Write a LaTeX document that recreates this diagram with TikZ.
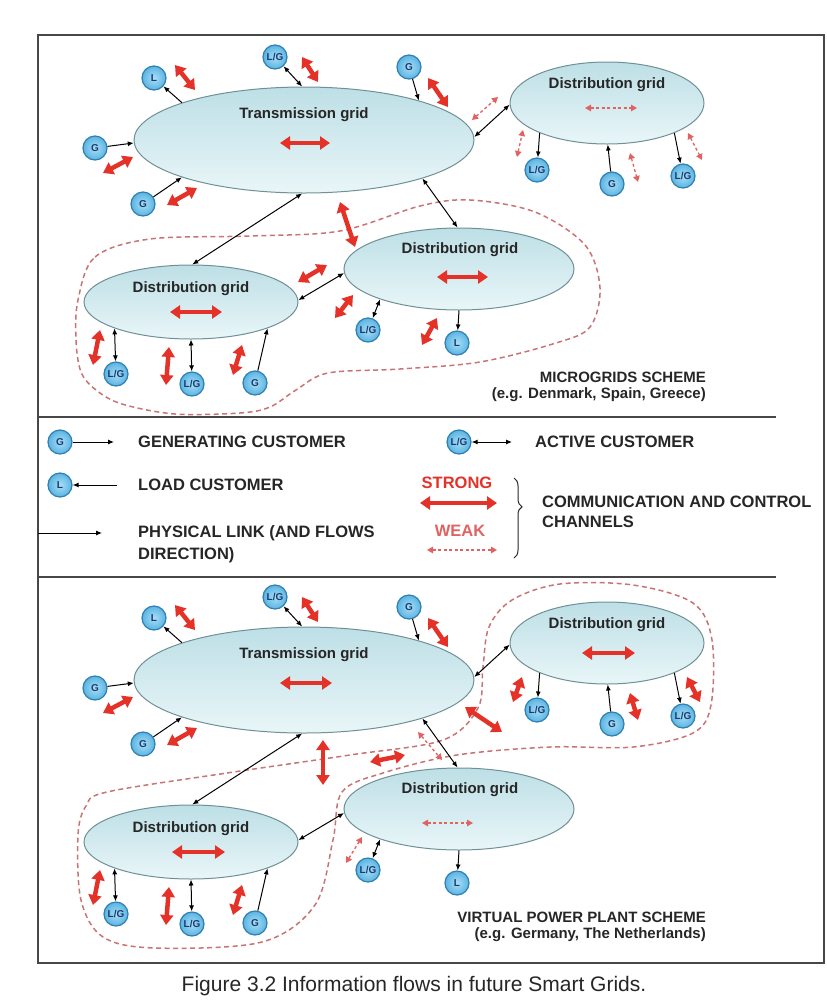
\documentclass[tikz,border=0pt]{standalone}
\usepackage{fontspec}
\setmainfont{Liberation Sans}
\usetikzlibrary{arrows.meta,shapes.geometric,decorations.pathreplacing}

\definecolor{gridtop}{HTML}{BDDFE6}
\definecolor{gridbot}{HTML}{E9F6F8}
\definecolor{gridline}{HTML}{6F9096}
\definecolor{custin}{HTML}{A9DEF6}
\definecolor{custout}{HTML}{5AB4E2}
\definecolor{custline}{HTML}{2F7FB0}
\definecolor{custtext}{HTML}{1C3A6E}
\definecolor{strongred}{HTML}{E53228}
\definecolor{weakred}{HTML}{E06262}
\definecolor{zonered}{HTML}{C87474}
\definecolor{ink}{HTML}{262626}

\begin{document}
\begin{tikzpicture}[x=1pt, y=-1pt,
  grid/.style={ellipse, draw=gridline, line width=1pt, top color=gridtop, bottom color=gridbot, inner sep=0pt},
  gridlabel/.style={font=\fontsize{15}{17}\selectfont\bfseries, text=ink, inner sep=0pt},
  cust/.style={circle, draw=custline, line width=1.2pt, inner color=custin, outer color=custout, minimum size=24pt, inner sep=0pt, font=\fontsize{10}{10}\selectfont\bfseries, text=custtext},
  link/.style={line width=1pt, -{Latex[length=6pt,width=5pt]}},
  duplex/.style={line width=1pt, {Latex[length=6pt,width=5pt]}-{Latex[length=6pt,width=5pt]}},
  strong/.style={strongred, line width=4.5pt, {Triangle[length=10pt,width=13pt]}-{Triangle[length=10pt,width=13pt]}},
  weak/.style={weakred, line width=1.3pt, dash pattern=on 3pt off 2.5pt, {Triangle[length=6pt,width=6.5pt]}-{Triangle[length=6pt,width=6.5pt]}},
  zone/.style={zonered, line width=1.5pt, dash pattern=on 5pt off 3.5pt},
  legend/.style={font=\fontsize{16.5}{20}\selectfont\bfseries, text=ink, anchor=west, inner sep=0pt},
  scheme/.style={font=\fontsize{15}{18}\selectfont\bfseries, text=ink, anchor=east, inner sep=0pt}]

  \useasboundingbox (0,0) rectangle (827,1005);
  \draw[line width=1.3pt, ink!85] (38,35) rectangle (824,963);
  \draw[line width=1.3pt, ink!85] (38,417) -- (776,417);
  \draw[line width=1.3pt, ink!85] (38,577) -- (776,577);

  % dashed zones (drawn first, under the grids)
  \draw[zone] plot[smooth cycle, tension=0.55] coordinates {(78,300) (95,257) (150,239) (250,236) (340,231) (420,206) (470,200) (535,212) (585,245) (600,288) (590,327) (556,343) (480,362) (400,369) (328,373) (296,390) (270,407) (240,413) (175,414) (122,404) (96,390) (81,372) (76,340)};
  \draw[zone] plot[smooth cycle, tension=0.55] coordinates {(107,792) (227,773) (350,755) (443,740) (478,708) (483,667) (489,627) (512,600) (560,584) (633,585) (693,603) (712,640) (711,705) (693,733) (633,747) (550,747) (457,755) (383,773) (342,792) (333,840) (315,905) (262,942) (155,948) (103,937) (81,900) (78,835) (86,806)};

  % both schemes share the same grids, customers and physical links
  \foreach \s/\dy in {A/0,B/540}{
    \node[grid, minimum width=340pt, minimum height=106pt] (tg\s) at (304,{140+\dy}) {};
    \node[grid, minimum width=194pt, minimum height=82pt] (dr\s) at (607,{103+\dy}) {};
    \node[grid, minimum width=230pt, minimum height=82pt] (dm\s) at (459,{269+\dy}) {};
    \node[grid, minimum width=214pt, minimum height=74pt] (dl\s) at (191,{302+\dy}) {};
    \node[gridlabel] (tgt\s) at (304,{115+\dy}) {Transmission grid};
    \node[gridlabel] (drt\s) at (607,{85+\dy}) {Distribution grid};
    \node[gridlabel] (dmt\s) at (460,{250+\dy}) {Distribution grid};
    \node[gridlabel] (dlt\s) at (191,{289+\dy}) {Distribution grid};

    \node[cust] (tl\s) at (154,{78+\dy}) {L};
    \node[cust] (tlg\s) at (275,{57+\dy}) {L/G};
    \node[cust] (tge\s) at (409,{67+\dy}) {G};
    \node[cust] (tgw\s) at (95,{148+\dy}) {G};
    \node[cust] (tgs\s) at (143,{204+\dy}) {G};
    \node[cust] (ra\s) at (537,{170+\dy}) {L/G};
    \node[cust] (rb\s) at (612,{184+\dy}) {G};
    \node[cust] (rc\s) at (683,{176+\dy}) {L/G};
    \node[cust] (ma\s) at (368,{330+\dy}) {L/G};
    \node[cust] (mb\s) at (457,{343+\dy}) {L};
    \node[cust] (la\s) at (116,{374+\dy}) {L/G};
    \node[cust] (lb\s) at (192,{384+\dy}) {L/G};
    \node[cust] (lc\s) at (255,{383+\dy}) {G};

    \draw[link] (tg\s.163) -- (tl\s);
    \draw[duplex] (tlg\s) -- (tg\s.92);
    \draw[link] (tge\s) -- (tg\s.19);
    \draw[link] (tgw\s) -- (tg\s.181);
    \draw[link] (tgs\s) -- (tg\s.197);
    \draw[duplex] (tg\s.1) -- (dr\s.181);
    \draw[duplex] (tg\s.342) -- (dm\s.92);
    \draw[duplex] (tg\s.268) -- (dl\s.88);
    \draw[duplex] (dl\s.1) -- (dm\s.182);
    \draw[link] (dr\s.204) -- (ra\s);
    \draw[link] (rb\s) -- (dr\s.271);
    \draw[link] (dr\s.336) -- (rc\s);
    \draw[duplex] (ma\s) -- (dm\s.201);
    \draw[link] (dm\s.270) -- (mb\s);
    \draw[duplex] (la\s) -- (dl\s.199);
    \draw[duplex] (lb\s) -- (dl\s.270);
    \draw[link] (lc\s) -- (dl\s.341);
  }

  % microgrids scheme: channels
  \draw[strong] (175,65) -- (195,90);
  \draw[strong] (302,57) -- (318,82);
  \draw[strong] (428,78) -- (448,107);
  \draw[strong] (103,173) -- (133,157);
  \draw[strong] (167,205) -- (197,188);
  \draw[strong] (280,143) -- (330,143);
  \draw[strong] (340,202) -- (355,247);
  \draw[strong] (298,282) -- (327,265);
  \draw[strong] (335,318) -- (353,295);
  \draw[strong] (422,345) -- (437,318);
  \draw[strong] (437,277) -- (488,277);
  \draw[strong] (170,312) -- (222,312);
  \draw[strong] (100,330) -- (93,365);
  \draw[strong] (169,347) -- (166,385);
  \draw[strong] (242,345) -- (233,375);
  \draw[weak] (585,108) -- (637,108);
  \draw[weak] (472,120) -- (498,97);
  \draw[weak] (517,157) -- (523,130);
  \draw[weak] (630,153) -- (638,182);
  \draw[weak] (688,133) -- (702,160);

  % virtual power plant scheme: channels
  \draw[strong] (175,605) -- (195,630);
  \draw[strong] (302,597) -- (318,622);
  \draw[strong] (428,618) -- (448,647);
  \draw[strong] (103,713) -- (133,697);
  \draw[strong] (167,745) -- (197,728);
  \draw[strong] (280,683) -- (332,683);
  \draw[strong] (323,740) -- (323,785);
  \draw[strong] (370,762) -- (405,755);
  \draw[strong] (465,707) -- (502,732);
  \draw[strong] (582,653) -- (635,653);
  \draw[strong] (513,702) -- (522,677);
  \draw[strong] (630,693) -- (638,720);
  \draw[strong] (687,677) -- (700,702);
  \draw[strong] (172,852) -- (225,852);
  \draw[strong] (100,870) -- (93,905);
  \draw[strong] (169,887) -- (166,925);
  \draw[strong] (242,885) -- (233,915);
  \draw[weak] (418,732) -- (442,760);
  \draw[weak] (422,823) -- (473,823);
  \draw[weak] (346,863) -- (362,837);

  \node[scheme] (mgTitle) at (706,377) {MICROGRIDS SCHEME};
  \node[scheme] (mgNote) at (706,395) {(e.g. Denmark, Spain, Greece)};
  \node[scheme] (vpTitle) at (706,917) {VIRTUAL POWER PLANT SCHEME};
  \node[scheme] (vpNote) at (706,935) {(e.g. Germany, The Netherlands)};

  % legend
  \node[cust] (keyG) at (60,442) {G};
  \coordinate (keyGend) at (114,442);
  \draw[link] (keyG) -- (keyGend);
  \node[legend] (keyGtxt) at (138,442) {GENERATING CUSTOMER};
  \node[cust] (keyL) at (60,485) {L};
  \coordinate (keyLstart) at (117,485);
  \draw[link] (keyLstart) -- (keyL);
  \node[legend] (keyLtxt) at (138,485) {LOAD CUSTOMER};
  \coordinate (keyPstart) at (38,533);
  \coordinate (keyPend) at (102,533);
  \draw[link] (keyPstart) -- (keyPend);
  \node[legend, align=left, font=\fontsize{16.5}{22}\selectfont\bfseries] (keyPtxt) at (138,544) {PHYSICAL LINK (AND FLOWS\\DIRECTION)};

  \node[cust] (keyLG) at (459,442) {L/G};
  \coordinate (keyLGend) at (512,442);
  \draw[duplex] (keyLG) -- (keyLGend);
  \node[legend] (keyLGtxt) at (535,442) {ACTIVE CUSTOMER};
  \node[legend, text=strongred, anchor=center] (keyS) at (457,483) {STRONG};
  \coordinate (keySa) at (420,503);
  \coordinate (keySb) at (497,503);
  \draw[strong] (keySa) -- (keySb);
  \node[legend, text=weakred, anchor=center] (keyW) at (460,531) {WEAK};
  \coordinate (keyWa) at (427,550);
  \coordinate (keyWb) at (497,550);
  \draw[weak] (keyWa) -- (keyWb);
  \coordinate (braceTop) at (514,478);
  \coordinate (braceBot) at (514,558);
  \draw[ink, line width=1pt, decorate, decoration={brace, amplitude=8pt, aspect=0.36}] (braceTop) -- (braceBot);
  \node[legend, align=left] (keyCtxt) at (542,512) {COMMUNICATION AND CONTROL\\CHANNELS};

  \node[font=\fontsize{21}{24}\selectfont, text=ink] (caption) at (414,986) {Figure 3.2 Information flows in future Smart Grids.};
\end{tikzpicture}
\end{document}
